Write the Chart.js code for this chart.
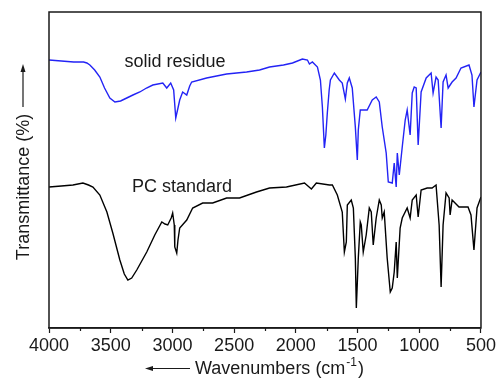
<!DOCTYPE html>
<html>
<head>
<meta charset="utf-8">
<script src="https://cdn.jsdelivr.net/npm/chart.js@4.4.0/dist/chart.umd.min.js"></script>
<style>
  html, body { margin: 0; padding: 0; background: #fff; }
</style>
</head>
<body>
<canvas id="myChartFTIR" width="498" height="378"></canvas>
<script>
// FTIR spectra, wavenumber (cm-1) vs relative transmittance (arbitrary units)
const residueWavenumbers = [
  4000, 3900, 3800, 3720, 3693, 3669, 3630, 3588, 3550, 3507, 3466, 3420, 3370, 3320, 3264, 3210,
  3159, 3078, 3046, 3014, 2990, 2973, 2955, 2941, 2917, 2884, 2860, 2844, 2723, 2561, 2399, 2294,
  2213, 2100, 2027, 1947, 1906, 1890, 1866, 1825, 1801, 1785, 1769, 1757, 1745, 1730, 1720, 1688,
  1648, 1624, 1599, 1583, 1567, 1543, 1518, 1502, 1494, 1478, 1450, 1422, 1381, 1349, 1324, 1300,
  1268, 1251, 1219, 1203, 1187, 1178, 1162, 1138, 1114, 1098, 1074, 1057, 1041, 1025, 1009, 985,
  944, 904, 888, 864, 847, 823, 807, 783, 766, 734, 702, 662, 597, 573, 557, 532,
  500,
];
const residueTransmittance = [
  268, 267, 266, 266, 265, 263, 258, 251, 240, 230, 226, 227, 230, 233, 236, 240,
  243, 245, 240, 245, 238, 210, 220, 228, 236, 233, 242, 246, 250, 254, 256, 258,
  261, 263, 265, 269, 268, 264, 266, 261, 248, 221, 180, 193, 215, 238, 248, 255,
  248, 245, 229, 245, 250, 240, 201, 168, 198, 218, 218, 218, 228, 231, 226, 201,
  175, 146, 145, 165, 141, 175, 153, 181, 208, 218, 193, 235, 241, 240, 183, 236,
  250, 255, 235, 251, 248, 200, 246, 253, 240, 246, 250, 260, 263, 253, 221, 248,
  256,
];

const pcWavenumbers = [
  4000, 3900, 3806, 3725, 3680, 3644, 3588, 3531, 3483, 3426, 3390, 3361, 3330, 3289, 3208, 3143,
  3086, 3060, 3038, 3010, 2998, 2985, 2981, 2965, 2955, 2941, 2884, 2836, 2755, 2674, 2561, 2456,
  2319, 2213, 2076, 1930, 1874, 1834, 1728, 1704, 1664, 1624, 1607, 1591, 1583, 1551, 1534, 1518,
  1510, 1494, 1478, 1470, 1454, 1430, 1405, 1389, 1373, 1349, 1324, 1308, 1300, 1284, 1260, 1235,
  1219, 1203, 1187, 1178, 1155, 1138, 1098, 1074, 1057, 1025, 1009, 985, 936, 896, 864, 839,
  823, 807, 783, 758, 750, 734, 678, 638, 605, 581, 557, 532, 500,
];
const pcTransmittance = [
  141, 142, 143, 145, 143, 141, 133, 116, 95, 68, 54, 48, 50, 58, 76, 93,
  106, 104, 103, 110, 115, 103, 81, 75, 88, 100, 108, 120, 125, 125, 130, 130,
  136, 140, 141, 145, 139, 145, 143, 143, 133, 116, 76, 86, 123, 128, 120, 70,
  20, 70, 106, 103, 76, 93, 120, 116, 83, 110, 128, 123, 110, 116, 70, 36,
  40, 56, 86, 50, 100, 110, 120, 110, 128, 133, 111, 138, 140, 140, 143, 103,
  41, 103, 135, 130, 113, 128, 121, 121, 121, 113, 78, 120, 131,
];

const minorTicks = [3750, 3250, 2750, 2250, 1750, 1250, 750];

const FONT = '"Liberation Sans", Arial, sans-serif';
const INK = "#1a1a1a";

function toPoints(xs, ys) {
  return xs.map((x, i) => ({ x: x, y: ys[i] }));
}

// frame, minor ticks, labels and arrows
const decorations = {
  id: "decorations",
  afterDraw(chart) {
    const ctx = chart.ctx;
    const a = chart.chartArea;
    const xs = chart.scales.x;
    ctx.save();
    ctx.strokeStyle = INK;
    ctx.lineWidth = 1.5;
    ctx.strokeRect(a.left, a.top, a.right - a.left, a.bottom - a.top);

    ctx.lineWidth = 1.2;
    minorTicks.forEach((v) => {
      const px = Math.round(xs.getPixelForValue(v)) + 0.5;
      ctx.beginPath();
      ctx.moveTo(px, a.bottom);
      ctx.lineTo(px, a.bottom + 3);
      ctx.stroke();
    });

    ctx.fillStyle = INK;
    ctx.font = "18px " + FONT;
    ctx.textBaseline = "alphabetic";
    ctx.textAlign = "center";
    ctx.fillText("solid residue", 175, 67);
    ctx.fillText("PC standard", 182, 192);

    // y title
    ctx.save();
    ctx.translate(29, 187);
    ctx.rotate(-Math.PI / 2);
    ctx.fillText("Transmittance (%)", 0, 0);
    ctx.restore();

    // up arrow
    ctx.beginPath();
    ctx.lineWidth = 1.2;
    ctx.moveTo(23, 107);
    ctx.lineTo(23, 70);
    ctx.stroke();
    ctx.beginPath();
    ctx.moveTo(23, 64);
    ctx.lineTo(20.5, 72);
    ctx.lineTo(25.5, 72);
    ctx.closePath();
    ctx.fill();

    // x title with superscript
    ctx.textAlign = "left";
    let tx = 195;
    const ty = 374;
    ctx.fillText("Wavenumbers (cm", tx, ty);
    tx += ctx.measureText("Wavenumbers (cm").width;
    ctx.font = "12px " + FONT;
    ctx.fillText("-1", tx + 1, ty - 8);
    tx += ctx.measureText("-1").width + 2;
    ctx.font = "18px " + FONT;
    ctx.fillText(")", tx, ty);

    // left arrow
    ctx.beginPath();
    ctx.moveTo(190, 368.5);
    ctx.lineTo(151, 368.5);
    ctx.stroke();
    ctx.beginPath();
    ctx.moveTo(145, 368.5);
    ctx.lineTo(153, 366);
    ctx.lineTo(153, 371);
    ctx.closePath();
    ctx.fill();
    ctx.restore();
  },
};

const ctx = document.getElementById("myChartFTIR").getContext("2d");
new Chart(ctx, {
  type: "scatter",
  data: {
    datasets: [
      {
        label: "solid residue",
        data: toPoints(residueWavenumbers, residueTransmittance),
        showLine: true,
        borderColor: "#2323f5",
        borderWidth: 1.4,
        pointRadius: 0,
        tension: 0,
      },
      {
        label: "PC standard",
        data: toPoints(pcWavenumbers, pcTransmittance),
        showLine: true,
        borderColor: "#000000",
        borderWidth: 1.4,
        pointRadius: 0,
        tension: 0,
      },
    ],
  },
  options: {
    responsive: false,
    animation: false,
    layout: { padding: { left: 49, right: 16, top: 12, bottom: 0 } },
    plugins: {
      legend: { display: false },
      tooltip: { enabled: false },
    },
    scales: {
      x: {
        type: "linear",
        reverse: true,
        min: 500,
        max: 4000,
        grid: {
          drawOnChartArea: false,
          drawTicks: true,
          tickLength: 5,
          tickColor: INK,
          tickWidth: 1.2,
        },
        border: { display: true, color: INK, width: 1.5 },
        ticks: {
          stepSize: 500,
          padding: 2,
          maxRotation: 0,
          color: INK,
          font: { family: FONT, size: 18 },
          callback: (v) => String(v),
        },
        afterFit: (scale) => {
          scale.height = 50;
        },
      },
      y: {
        display: false,
        min: 0,
        max: 316,
      },
    },
  },
  plugins: [decorations],
});
</script>
</body>
</html>
